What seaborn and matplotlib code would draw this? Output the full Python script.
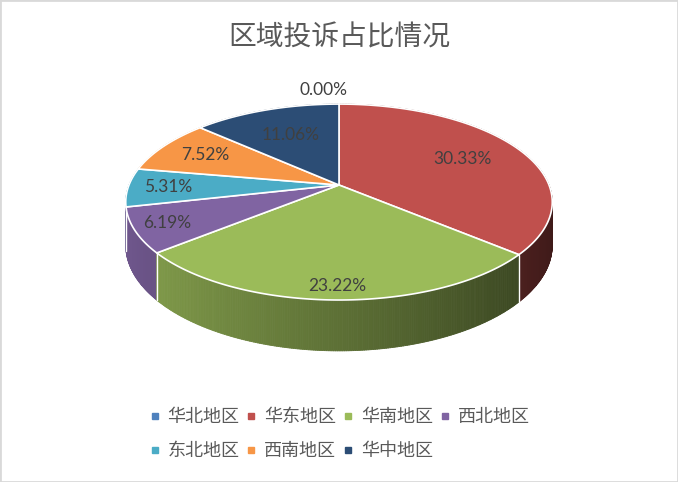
import numpy as np
import matplotlib
matplotlib.use("Agg")
import matplotlib.pyplot as plt
from matplotlib.collections import PolyCollection
from matplotlib.lines import Line2D
from matplotlib.patches import Rectangle
import seaborn as sns

# ---- data -------------------------------------------------------------
regions = ["华北地区", "华东地区", "华南地区", "西北地区", "东北地区", "西南地区", "华中地区"]
shares = [0.00, 30.33, 23.22, 6.19, 5.31, 7.52, 11.06]
chart_title = "区域投诉占比情况"

slice_colors = ["#4F81BD", "#C0504D", "#9BBB59", "#8064A2", "#4BACC6", "#F79646", "#2C4D75"]

# ---- style ------------------------------------------------------------
sns.set_theme(style="white")
plt.rcParams["font.family"] = ["Noto Sans CJK SC", "DejaVu Sans"]
palette = sns.color_palette(slice_colors)

W, H = 678, 482
fig = plt.figure(figsize=(W / 100, H / 100), dpi=100)
ax = fig.add_axes([0, 0, 1, 1])
ax.set_xlim(0, W)
ax.set_ylim(H, 0)
ax.axis("off")

# tilted disc geometry (pixel units of the canvas)
CX, CY = 339, 185
RX, RY = 210, 95
PERSP = 0.174
DEPTH = 42

# label placement: radial factor and a small horizontal nudge
LABEL_R = [1.21, 0.68, 0.90, 0.85, 0.81, 0.75, 0.63]
LABEL_DX = [-15, 0, 0, 0, 0, 0, 0]


def project(phi, r=1.0, z=0.0):
    u = r * np.cos(phi)
    v = r * np.sin(phi)
    s = 1.0 / (1.0 + PERSP * v)
    return CX + RX * u * s, CY - RY * v * s + DEPTH * z * s


def to_phi(t):
    # fraction of the full turn, clockwise from 12 o'clock
    return np.pi / 2 - 2 * np.pi * t


vals = np.asarray(shares, dtype=float)
frac = vals / vals.sum()
edges = np.concatenate([[0.0], np.cumsum(frac)])

# ---- outer wall, shaded by direction, back segments first ---------------
quads, qcolors, depth_key = [], [], []
for i, f in enumerate(frac):
    if f <= 0:
        continue
    a0, a1 = to_phi(edges[i]), to_phi(edges[i + 1])
    n = max(2, int(np.degrees(abs(a1 - a0)) / 0.5))
    ang = np.linspace(a0, a1, n + 1)
    base = np.array(palette[i])
    for a, b in zip(ang[:-1], ang[1:]):
        m = 0.5 * (a + b)
        shade = np.clip(0.6 - 0.28 * np.cos(m), 0.2, 1.0)
        quads.append([project(a), project(b), project(b, z=1), project(a, z=1)])
        qcolors.append(tuple(base * shade))
        depth_key.append(np.sin(m))
order = np.argsort(depth_key)[::-1]
wall = PolyCollection([quads[k] for k in order],
                      facecolors=[qcolors[k] for k in order],
                      edgecolors=[qcolors[k] for k in order],
                      linewidths=0.6)
ax.add_collection(wall)

# white seams on the wall between slices
for k in range(1, len(edges) - 1):
    phi = to_phi(edges[k])
    if np.sin(phi) < 0:
        x0, y0 = project(phi)
        x1, y1 = project(phi, z=1)
        ax.plot([x0, x1], [y0, y1], color="white", lw=1.0, zorder=3)

# ---- top faces --------------------------------------------------------
for i, f in enumerate(frac):
    if f <= 0:
        continue
    ang = np.linspace(to_phi(edges[i]), to_phi(edges[i + 1]), 200)
    pts = [project(0, r=0)] + [project(a) for a in ang]
    xs, ys = zip(*pts)
    ax.fill(xs, ys, facecolor=palette[i], edgecolor="white", lw=1.2, zorder=4)

# ---- value labels ------------------------------------------------------
for i, v in enumerate(shares):
    mid = to_phi(0.5 * (edges[i] + edges[i + 1]))
    x, y = project(mid, r=LABEL_R[i])
    ax.text(x + LABEL_DX[i], y, f"{v:.2f}%", ha="center", va="center",
            fontsize=12.5, color="#404040", family=["Lato", "DejaVu Sans"], zorder=5)

# ---- title, legend, frame ---------------------------------------------
fig.text(0.5, 1 - 38 / H, chart_title, ha="center", va="center",
         fontsize=20, color="#595959", fontweight="light")

# legend entries laid out row by row (matplotlib fills columns first)
ncol = 4
nrow = int(np.ceil(len(regions) / ncol))
leg_order = [r * ncol + c for c in range(ncol) for r in range(nrow)
             if r * ncol + c < len(regions)]
handles = [Line2D([], [], marker="s", ls="none", markersize=5,
                  markerfacecolor=palette[k], markeredgecolor=palette[k])
           for k in leg_order]
fig.legend(handles, [regions[k] for k in leg_order], loc="center",
           bbox_to_anchor=(0.5, 1 - 434 / H),
           ncol=ncol, frameon=False, fontsize=13, handlelength=0.7,
           handletextpad=0.35, columnspacing=0.32, labelspacing=0.88,
           labelcolor="#595959")

fig.add_artist(Rectangle((0, 0), 1, 1, transform=fig.transFigure, fill=False,
                         edgecolor="#D9D9D9", lw=2))

fig.savefig("out.png", dpi=100)
